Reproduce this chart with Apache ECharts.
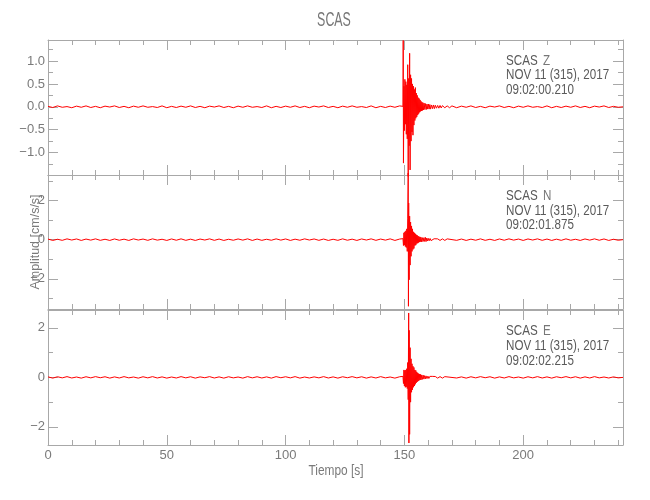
<!DOCTYPE html>
<html>
<head>
<meta charset="utf-8">
<script src="https://cdn.jsdelivr.net/npm/echarts@6/dist/echarts.min.js"></script>
<style>html,body{margin:0;padding:0;background:#fff}#c{width:650px;height:500px}</style>
</head>
<body>
<div id="c"></div>
<script>
// ---------- text ----------
const chartTitle = 'SCAS';
const stationName = 'SCAS';
const componentNames = ['Z', 'N', 'E'];
const dateLabel = 'NOV 11 (315), 2017';
const startTimes = ['09:02:00.210', '09:02:01.875', '09:02:02.215'];
const xAxisTitle = 'Tiempo [s]';
const yAxisTitle = 'Amplitud [cm/s/s]';

// ---------- axes ----------
const xRange = [0, 242];
const xMajorTicks = [0, 50, 100, 150, 200];
const xMinorTicks = [10, 20, 30, 40, 60, 70, 80, 90, 110, 120, 130, 140, 160, 170, 180, 190, 210, 220, 230, 240];
const yRanges = [[-1.49, 1.46], [-3.54, 3.30], [-2.73, 2.72]];
const yMajorTicks = [[-1.0, -0.5, 0.0, 0.5, 1.0], [-2, 0, 2], [-2, 0, 2]];
const yMinorTicks = [[-1.25, -0.75, -0.25, 0.25, 0.75, 1.25], [-3, -1, 1, 3], [-1, 1]];
const yDecimals = [1, 0, 0];

// ---------- background noise (before and after the event) ----------
const noiseTimesBefore = [0,2,4,6,8,10,12,14,16,18,20,22,24,26,28,30,32,34,36,38,40,42,44,46,48,50,52,54,56,58,60,62,64,66,68,70,72,74,76,78,80,82,84,86,88,90,92,94,96,98,100,102,104,106,108,110,112,114,116,118,120,122,124,126,128,130,132,134,136,138,140,142,144,146,148];
const noiseTimesAfter = [172,174,176,178,180,182,184,186,188,190,192,194,196,198,200,202,204,206,208,210,212,214,216,218,220,222,224,226,228,230,232,234,236,238,240,242];

const zNoiseBefore = [0.01,-0.015,0.02,-0.01,0.005,-0.02,0.015,-0.01,0.02,-0.015,0.01,-0.02,0.015,-0.005,0.02,-0.015,0.01,-0.02,0.015,-0.01,0.02,-0.01,0.005,-0.015,0.02,-0.02,0.01,-0.015,0.015,-0.01,0.02,-0.015,0.01,-0.02,0.015,-0.005,0.02,-0.015,0.01,-0.02,0.015,-0.01,0.02,-0.01,0.005,-0.015,0.02,-0.02,0.01,-0.015,0.015,-0.01,0.02,-0.015,0.01,-0.02,0.015,-0.005,0.02,-0.015,0.01,-0.02,0.015,-0.01,0.02,-0.01,0.005,-0.015,0.02,-0.02,0.01,-0.015,0.015,-0.01,0.02];
const zNoiseAfter = [-0.02,0.015,-0.01,0.02,-0.015,0.01,-0.02,0.015,-0.005,0.02,-0.015,0.01,-0.02,0.015,-0.01,0.02,-0.01,0.005,-0.015,0.02,-0.02,0.01,-0.015,0.015,-0.01,0.02,-0.015,0.01,-0.02,0.015,-0.005,0.02,-0.015,0.01,-0.01,0.0];
const nNoiseBefore = [0.03,-0.04,0.02,-0.035,0.04,-0.02,0.035,-0.04,0.03,-0.025,0.04,-0.035,0.02,-0.04,0.035,-0.03,0.025,-0.04,0.04,-0.02,0.03,-0.035,0.04,-0.025,0.02,-0.04,0.035,-0.03,0.04,-0.035,0.025,-0.04,0.03,-0.02,0.04,-0.035,0.03,-0.04,0.02,-0.03,0.035,-0.025,0.04,-0.04,0.03,-0.035,0.02,-0.03,0.04,-0.025,0.035,-0.04,0.025,-0.03,0.04,-0.02,0.035,-0.035,0.03,-0.04,0.02,-0.035,0.04,-0.03,0.025,-0.04,0.035,-0.02,0.04,-0.035,0.03,-0.025,0.04,-0.04,0.03];
const nNoiseAfter = [-0.035,0.03,-0.04,0.025,-0.03,0.04,-0.035,0.02,-0.04,0.035,-0.03,0.04,-0.025,0.03,-0.04,0.035,-0.02,0.04,-0.035,0.03,-0.04,0.025,-0.035,0.04,-0.03,0.02,-0.04,0.035,-0.025,0.04,-0.03,0.035,-0.04,0.02,-0.03,0.0];
const eNoiseBefore = [0.02,-0.03,0.025,-0.02,0.03,-0.025,0.015,-0.03,0.025,-0.02,0.03,-0.015,0.025,-0.03,0.02,-0.025,0.03,-0.02,0.015,-0.03,0.025,-0.02,0.03,-0.025,0.02,-0.03,0.015,-0.025,0.03,-0.02,0.025,-0.03,0.02,-0.015,0.03,-0.025,0.02,-0.03,0.025,-0.02,0.015,-0.03,0.03,-0.02,0.025,-0.025,0.02,-0.03,0.03,-0.015,0.025,-0.02,0.03,-0.03,0.015,-0.025,0.02,-0.02,0.03,-0.025,0.02,-0.03,0.025,-0.015,0.03,-0.02,0.025,-0.03,0.02,-0.025,0.03,-0.02,0.015,-0.03,0.025];
const eNoiseAfter = [-0.025,0.02,-0.03,0.025,-0.02,0.03,-0.015,0.025,-0.03,0.02,-0.025,0.03,-0.02,0.015,-0.03,0.025,-0.02,0.03,-0.025,0.02,-0.03,0.025,-0.015,0.03,-0.02,0.025,-0.03,0.02,-0.025,0.03,-0.02,0.015,-0.025,0.02,-0.02,0.0];

// ---------- event (time s, amplitude cm/s/s) ----------
const zEvent = [[149.4,0.01],[149.5,1.45],[149.6,-1.23],[149.8,0.45],[150.0,-0.52],[150.2,0.60],[150.4,-0.38],[150.6,0.55],[150.8,-0.60],[151.0,0.48],[151.2,-0.70],[151.4,0.92],[151.6,-1.52],[151.8,0.62],[152.0,-0.85],[152.2,1.17],[152.4,-1.38],[152.6,0.70],[152.8,-0.75],[153.0,0.62],[153.2,-0.55],[153.4,0.50],[153.6,-0.62],[153.8,0.45],[154.0,-0.40],[154.2,0.38],[154.4,-0.30],[154.6,0.42],[154.8,-0.25],[155.0,0.30],[155.2,-0.22],[155.4,0.25],[155.6,-0.18],[155.8,0.20],[156.0,-0.15],[156.2,0.18],[156.4,-0.12],[156.6,0.15],[156.8,-0.10],[157.0,0.12],[157.2,-0.09],[157.4,0.10],[157.6,-0.08],[157.8,0.09],[158.0,-0.07],[158.3,0.08],[158.6,-0.06],[158.9,0.07],[159.2,-0.06],[159.5,0.06],[159.8,-0.05],[160.1,0.06],[160.4,-0.05],[160.7,0.05],[161.0,-0.05],[161.4,0.04],[161.8,-0.04],[162.2,0.04],[162.6,-0.04],[163.0,0.035],[163.5,-0.03],[164.0,0.03],[164.5,-0.03],[165.0,0.03],[165.5,-0.025],[166.0,0.025],[167.0,-0.02],[168.0,0.02],[169.0,-0.02],[170.0,0.02]];
const nEvent = [[149.4,0.05],[149.6,-0.30],[149.8,0.35],[150.0,-0.28],[150.2,0.40],[150.4,-0.35],[150.6,0.45],[150.8,-0.40],[151.0,0.55],[151.2,-0.60],[151.4,1.10],[151.6,3.40],[151.7,-3.40],[151.8,1.87],[152.0,-2.05],[152.2,1.20],[152.4,-1.30],[152.6,0.90],[152.8,-0.85],[153.0,0.70],[153.2,-0.60],[153.4,0.55],[153.6,-0.50],[153.8,0.40],[154.0,-0.45],[154.2,0.35],[154.4,-0.30],[154.6,0.30],[154.8,-0.28],[155.0,0.25],[155.2,-0.20],[155.4,0.22],[155.6,-0.18],[155.8,0.18],[156.0,-0.15],[156.2,0.15],[156.4,-0.12],[156.6,0.14],[156.8,-0.10],[157.0,0.12],[157.3,-0.12],[157.6,0.10],[157.9,-0.09],[158.2,0.10],[158.5,-0.09],[158.8,0.12],[159.1,-0.10],[159.4,0.08],[159.7,-0.07],[160.0,0.07],[160.4,-0.06],[160.8,0.06],[161.2,-0.05],[161.6,0.05],[162.0,-0.05],[162.5,0.045],[163.0,-0.04],[164.0,0.04],[165.0,-0.04],[166.0,0.04],[167.0,-0.04],[168.0,0.04]];
const eEvent = [[149.4,0.04],[149.6,-0.25],[149.8,0.30],[150.0,-0.35],[150.2,0.28],[150.4,-0.40],[150.6,0.30],[150.8,-0.38],[151.0,0.35],[151.2,-0.45],[151.4,0.60],[151.6,-0.90],[151.8,2.60],[151.9,-2.65],[152.0,1.90],[152.2,-2.30],[152.4,1.20],[152.6,-1.00],[152.8,0.75],[153.0,-0.60],[153.2,0.55],[153.4,-0.50],[153.6,0.45],[153.8,-0.40],[154.0,0.40],[154.2,-0.35],[154.4,0.30],[154.6,-0.28],[154.8,0.28],[155.0,-0.22],[155.2,0.22],[155.4,-0.18],[155.6,0.18],[155.8,-0.15],[156.0,0.15],[156.2,-0.12],[156.4,0.13],[156.6,-0.10],[156.8,0.12],[157.0,-0.10],[157.3,0.10],[157.6,-0.08],[157.9,0.09],[158.2,-0.07],[158.5,0.07],[158.8,-0.06],[159.1,0.06],[159.5,-0.05],[159.9,0.05],[160.3,-0.045],[160.7,0.04],[161.2,-0.04],[161.7,0.04],[162.2,-0.035],[163.0,0.035],[164.0,-0.03],[165.0,0.03],[166.0,-0.03],[167.0,0.03]];

// ---------- build ----------
function buildTrace(before, event, after) {
  const out = [];
  noiseTimesBefore.forEach((t, i) => out.push([t, before[i]]));
  event.forEach(p => out.push(p));
  noiseTimesAfter.forEach((t, i) => out.push([t, after[i]]));
  return out;
}
const traces = [
  buildTrace(zNoiseBefore, zEvent, zNoiseAfter),
  buildTrace(nNoiseBefore, nEvent, nNoiseAfter),
  buildTrace(eNoiseBefore, eEvent, eNoiseAfter)
];

const FONT = "'Liberation Sans', Arial, sans-serif";
const AXIS_COLOR = '#a8a8a8';
const LABEL_COLOR = '#7a7a7a';
const TEXT_COLOR = '#5a5a5a';

const grids = [
  { left: 48, right: 27, top: 40, height: 135 },
  { left: 48, right: 27, top: 175, height: 134 },
  { left: 48, right: 27, top: 310, height: 135 }
];

const xAxes = [], yAxes = [], series = [];
function fmtY(d) {
  return v => (v < 0 ? '\u2212' : '') + Math.abs(v).toFixed(d);
}
grids.forEach((g, i) => {
  const baseX = xAxes.length, baseY = yAxes.length;
  const xCommon = { type: 'value', gridIndex: i, min: xRange[0], max: xRange[1], splitLine: { show: false } };
  xAxes.push(Object.assign({}, xCommon, {
    position: 'bottom',
    axisLine: { show: true, onZero: false, lineStyle: { color: AXIS_COLOR, width: 1 } },
    axisTick: { show: true, inside: true, length: 10, customValues: xMajorTicks, lineStyle: { color: AXIS_COLOR } },
    axisLabel: { show: i === 2, customValues: xMajorTicks, margin: 4, color: LABEL_COLOR, fontSize: 13, fontFamily: FONT }
  }));
  xAxes.push(Object.assign({}, xCommon, {
    position: 'top',
    axisLine: { show: true, onZero: false, lineStyle: { color: AXIS_COLOR, width: 1 } },
    axisTick: { show: true, inside: true, length: 10, customValues: xMajorTicks, lineStyle: { color: AXIS_COLOR } },
    axisLabel: { show: false }
  }));
  for (let k = 0; k < 2; k++) {
    xAxes.push(Object.assign({}, xCommon, {
      position: k === 0 ? 'bottom' : 'top',
      axisLine: { show: false, onZero: false },
      axisTick: { show: true, inside: true, length: 5, customValues: xMinorTicks, lineStyle: { color: AXIS_COLOR } },
      axisLabel: { show: false }
    }));
  }
  const yCommon = { type: 'value', gridIndex: i, min: yRanges[i][0], max: yRanges[i][1], splitLine: { show: false } };
  const mainY = Object.assign({}, yCommon, {
    position: 'left',
    axisLine: { show: true, onZero: false, lineStyle: { color: AXIS_COLOR, width: 1 } },
    axisTick: { show: true, inside: true, length: 10, customValues: yMajorTicks[i], lineStyle: { color: AXIS_COLOR } },
    axisLabel: { show: true, customValues: yMajorTicks[i], margin: 3, color: LABEL_COLOR, fontSize: 13, fontFamily: FONT, formatter: fmtY(yDecimals[i]) }
  });
  if (i === 1) {
    Object.assign(mainY, {
      name: yAxisTitle, nameLocation: 'middle', nameRotate: 90, nameGap: 6, nameMoveOverlap: false,
      nameTextStyle: { color: LABEL_COLOR, fontSize: 12.5, fontFamily: FONT, verticalAlign: 'bottom' }
    });
  }
  yAxes.push(mainY);
  yAxes.push(Object.assign({}, yCommon, {
    position: 'right',
    axisLine: { show: true, onZero: false, lineStyle: { color: AXIS_COLOR, width: 1 } },
    axisTick: { show: true, inside: true, length: 10, customValues: yMajorTicks[i], lineStyle: { color: AXIS_COLOR } },
    axisLabel: { show: false }
  }));
  for (let k = 0; k < 2; k++) {
    yAxes.push(Object.assign({}, yCommon, {
      position: k === 0 ? 'left' : 'right',
      axisLine: { show: false, onZero: false },
      axisTick: { show: true, inside: true, length: 5, customValues: yMinorTicks[i], lineStyle: { color: AXIS_COLOR } },
      axisLabel: { show: false }
    }));
  }
  series.push({
    type: 'line', xAxisIndex: baseX, yAxisIndex: baseY, data: traces[i],
    showSymbol: false, symbol: 'none', clip: false, animation: false,
    lineStyle: { color: '#ff0000', width: 1 }, z: 5
  });
});

// annotation positions
const annX = 506, letterX = 543;
const annY = [[61.5, 75.5, 90.5], [196.3, 211, 225.3], [331.3, 345.7, 360.7]];
const graphic = [];
componentNames.forEach((c, i) => {
  const txt = (s, x, y, col) => ({ type: 'text', x: x, y: y, scaleX: 0.83, z: 10, style: { text: s, fill: col || TEXT_COLOR, font: '14px ' + FONT, align: 'left', verticalAlign: 'middle' } });
  graphic.push(txt(stationName, annX, annY[i][0]));
  graphic.push(txt(c, letterX, annY[i][0], '#777'));
  graphic.push(txt(dateLabel, annX, annY[i][1]));
  graphic.push(txt(startTimes[i], annX, annY[i][2]));
});
graphic.push({ type: 'text', x: 334, y: 20.5, scaleX: 0.62, z: 10, style: { text: chartTitle, fill: '#777', font: '20px ' + FONT, align: 'center', verticalAlign: 'middle' } });
graphic.push({ type: 'text', x: 336, y: 471, scaleX: 0.85, z: 10, style: { text: xAxisTitle, fill: LABEL_COLOR, font: '14px ' + FONT, align: 'center', verticalAlign: 'middle' } });

const chart = echarts.init(document.getElementById('c'), null, { renderer: 'canvas' });
chart.setOption({
  animation: false,
  backgroundColor: '#ffffff',
  grid: grids,
  xAxis: xAxes,
  yAxis: yAxes,
  series: series,
  graphic: graphic
});
</script>
</body>
</html>
